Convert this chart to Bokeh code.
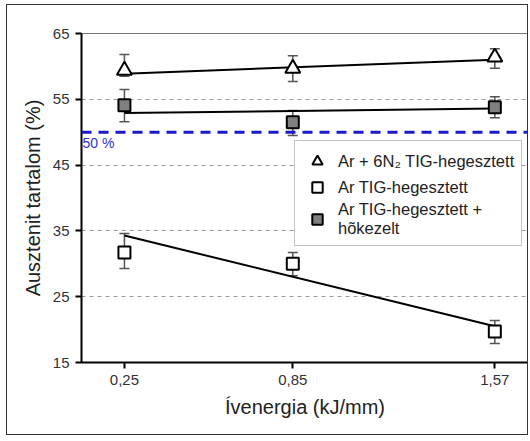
from bokeh.plotting import figure
from bokeh.models import (FixedTicker, Range1d, Whisker, ColumnDataSource, Span, Label,
                          Legend, LegendItem)
from bokeh.embed import file_html
from bokeh.resources import INLINE

energy = [0.25, 0.85, 1.57]
energy_labels = ["0,25", "0,85", "1,57"]

n2 = [59.4, 59.7, 61.4]
n2_lo = [58.5, 57.7, 59.7]
n2_hi = [61.8, 61.6, 62.7]

ar = [31.7, 30.0, 19.7]
ar_lo = [29.3, 28.2, 17.9]
ar_hi = [34.6, 31.7, 21.4]

arh = [54.1, 51.5, 53.8]
arh_lo = [51.6, 49.5, 52.2]
arh_hi = [56.5, 53.3, 55.4]

trend_x = [0.25, 1.57]
n2_fit = [58.9, 61.0]
ar_fit = [34.3, 20.5]
arh_fit = [52.9, 53.6]

y_ticks = [15, 25, 35, 45, 55, 65]
grid_ticks = [25, 35, 45, 55]
limit = 50

FONT = "Liberation Sans"

p = figure(width=522, height=431, output_backend="svg", toolbar_location=None,
           x_range=Range1d(0.097, 1.69), y_range=Range1d(15, 65),
           min_border_left=74, min_border_right=1, min_border_top=28, min_border_bottom=74)
p.styles = {"border": "1px solid #333", "margin-left": "6px", "margin-top": "4px"}

p.outline_line_color = "#777"
p.outline_line_width = 1

p.xgrid.visible = False
p.ygrid.ticker = FixedTicker(ticks=grid_ticks)
p.ygrid.grid_line_color = "#999"
p.ygrid.grid_line_dash = "4 4"
p.ygrid.grid_line_width = 1

for ax in (p.xaxis[0], p.yaxis[0]):
    ax.axis_line_color = "black"
    ax.axis_line_width = 2
    ax.major_tick_line_color = "black"
    ax.major_tick_line_width = 2
    ax.major_tick_out = 6
    ax.major_tick_in = 0
    ax.minor_tick_line_color = None
    ax.major_label_text_font = FONT
    ax.major_label_text_font_size = "15px"
    ax.major_label_text_color = "#333"
    ax.axis_label_text_font = FONT
    ax.axis_label_text_font_style = "normal"
    ax.axis_label_text_color = "#222"

p.xaxis.ticker = FixedTicker(ticks=energy)
p.xaxis.major_label_overrides = {e: l for e, l in zip(energy, energy_labels)}
p.xaxis.axis_label = "Ívenergia (kJ/mm)"
p.xaxis.axis_label_text_font_size = "20px"
p.xaxis.major_label_standoff = 6
p.xaxis.axis_label_standoff = 8
p.yaxis.ticker = FixedTicker(ticks=y_ticks)
p.yaxis.axis_label = "Ausztenit tartalom (%)"
p.yaxis.axis_label_text_font_size = "20px"
p.yaxis.major_label_standoff = 6
p.yaxis.axis_label_standoff = 6

span = Span(location=limit, dimension="width", line_color="#1a1acc", line_width=3,
            line_dash="10 7")
p.add_layout(span)
p.add_layout(Label(x=0.097, y=limit, text="50 %", text_color="#3030cc", text_font=FONT,
                   text_font_size="14px", text_baseline="top", x_offset=1, y_offset=-3))

# trend lines
p.line(trend_x, n2_fit, line_color="black", line_width=2)
p.line(trend_x, ar_fit, line_color="black", line_width=2)
p.line(trend_x, arh_fit, line_color="black", line_width=2)

# error bars
for lo, hi in ((n2_lo, n2_hi), (ar_lo, ar_hi), (arh_lo, arh_hi)):
    src = ColumnDataSource(dict(x=energy, lo=lo, hi=hi))
    w = Whisker(source=src, base="x", lower="lo", upper="hi", line_color="#555",
                line_width=1.5)
    w.upper_head.size = 10
    w.lower_head.size = 10
    w.upper_head.line_color = "#555"
    w.lower_head.line_color = "#555"
    w.upper_head.line_width = 1.5
    w.lower_head.line_width = 1.5
    p.add_layout(w)

r_n2 = p.scatter(energy, n2, marker="triangle", size=15, fill_color="white",
                 line_color="black", line_width=2)
r_ar = p.scatter(energy, ar, marker="square", size=12, fill_color="white",
                 line_color="black", line_width=2)
r_arh = p.scatter(energy, arh, marker="square", size=12, fill_color="#808080",
                  line_color="black", line_width=2)

legend = Legend(items=[
    LegendItem(label="Ar + 6N\u2082 TIG-hegesztett", renderers=[r_n2]),
    LegendItem(label="Ar TIG-hegesztett", renderers=[r_ar]),
    LegendItem(label="Ar TIG-hegesztett +\nhõkezelt", renderers=[r_arh]),
], location=(213, 116))
legend.label_text_font = FONT
legend.label_text_font_size = "16.5px"
legend.label_text_color = "#222"
legend.border_line_color = "#888"
legend.border_line_width = 1
legend.background_fill_alpha = 1
legend.spacing = 0
legend.padding = 7
legend.margin = 0
legend.glyph_width = 30
legend.glyph_height = 26
legend.label_standoff = 6
p.add_layout(legend)

open("out.html", "w").write(file_html(p, INLINE))
